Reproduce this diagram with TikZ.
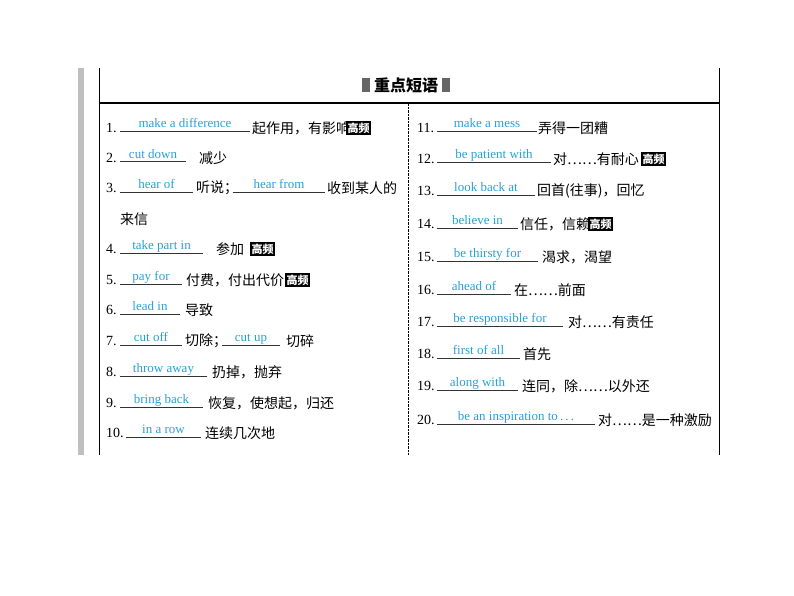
\documentclass[tikz,border=0pt]{standalone}
\usepackage{fontspec}
\setmainfont{Liberation Serif}
\newfontfamily\cjk{Noto Sans CJK SC}
\newfontfamily\narrow{Liberation Serif}
\definecolor{ans}{RGB}{40,160,215}
\tikzset{num/.style={anchor=west,inner sep=0pt,font=\narrow\fontsize{14}{14}\selectfont},
 answ/.style={inner sep=0pt,anchor=base,text=ans,font=\narrow\fontsize{13}{13}\selectfont},
 cn/.style={anchor=west,inner sep=0pt,font=\cjk\fontsize{14}{14}\selectfont},
 badge/.style={anchor=west,fill=black,text=white,inner sep=1.5pt,font=\cjk\bfseries\fontsize{11}{11}\selectfont},
 uline/.style={line width=1pt,draw=black!80}}
% \blank{name}{x1}{x2}{y}{text}
\newcommand\blank[5]{\draw[uline] (#2,#4+9) coordinate (#1a) -- (#3,#4+9) coordinate (#1b);
 \node[answ] (#1t) at ({(#2+#3)/2},#4+5) {#5};}
\begin{document}
\begin{tikzpicture}[x=1pt,y=-1pt]
\useasboundingbox (0,0) rectangle (794,596);
\fill[black!25] (78,68) rectangle (84,455);
\draw[line width=1pt] (99,68) -- (99,455);
\draw[line width=1pt] (719,68) -- (719,455);
\draw[line width=1.2pt] (99,103) -- (719,103);
\draw[densely dotted] (408,104) -- (408,455);
\node[cn,anchor=center,font=\cjk\bfseries\fontsize{16}{16}\selectfont] (hd) at (406,85) {重点短语};
\fill[black!60] ([xshift=-12pt]hd.west|-0,78) rectangle ([xshift=-4pt]hd.west|-0,92);
\fill[black!60] ([xshift=4pt]hd.east|-0,78) rectangle ([xshift=12pt]hd.east|-0,92);
% left column
\node[num] (n1) at (106,128) {1.}; \blank{b1}{120}{250}{123}{make a difference}
\node[cn] (c1) at (252,128) {起作用，有影响}; \node[badge] (g1) at (346,128) {高频};
\node[num] (n2) at (106,158) {2.}; \blank{b2}{120}{186}{153}{cut down}
\node[cn] (c2) at (199,158) {减少};
\node[num] (n3) at (106,188) {3.}; \blank{b3}{120}{193}{183}{hear of}
\node[cn] (c3) at (196,188) {听说；}; \blank{b3x}{233}{325}{183}{hear from}
\node[cn] (c3b) at (327,188) {收到某人的};
\node[cn] (c3c) at (120,219) {来信};
\node[num] (n4) at (106,249) {4.}; \blank{b4}{120}{203}{244}{take part in}
\node[cn] (c4) at (216,249) {参加}; \node[badge] (g4) at (250,249) {高频};
\node[num] (n5) at (106,280) {5.}; \blank{b5}{120}{182}{275}{pay for}
\node[cn] (c5) at (186,280) {付费，付出代价}; \node[badge] (g5) at (285,280) {高频};
\node[num] (n6) at (106,310) {6.}; \blank{b6}{120}{180}{305}{lead in}
\node[cn] (c6) at (185,310) {导致};
\node[num] (n7) at (106,341) {7.}; \blank{b7}{120}{182}{336}{cut off}
\node[cn] (c7) at (185,341) {切除；}; \blank{b7x}{222}{280}{336}{cut up}
\node[cn] (c7b) at (286,341) {切碎};
\node[num] (n8) at (106,372) {8.}; \blank{b8}{120}{207}{367}{throw away}
\node[cn] (c8) at (212,372) {扔掉，抛弃};
\node[num] (n9) at (106,403) {9.}; \blank{b9}{120}{203}{398}{bring back}
\node[cn] (c9) at (208,403) {恢复，使想起，归还};
\node[num] (n10) at (106,433) {10.}; \blank{b10}{126}{201}{428}{in a row}
\node[cn] (c10) at (205,433) {连续几次地};
% right column
\node[num] (n11) at (417,128) {11.}; \blank{b11}{437}{537}{123}{make a mess}
\node[cn] (c11) at (538,128) {弄得一团糟};
\node[num] (n12) at (417,159) {12.}; \blank{b12}{437}{551}{154}{be patient with}
\node[cn] (c12) at (553,159) {对……有耐心}; \node[badge] (g12) at (641,159) {高频};
\node[num] (n13) at (417,191) {13.}; \blank{b13}{437}{535}{186}{look back at}
\node[cn] (c13) at (537,191) {回首(往事)，回忆};
\node[num] (n14) at (417,224) {14.}; \blank{b14}{437}{518}{219}{believe in}
\node[cn] (c14) at (520,224) {信任，信赖}; \node[badge] (g14) at (588,224) {高频};
\node[num] (n15) at (417,257) {15.}; \blank{b15}{437}{538}{252}{be thirsty for}
\node[cn] (c15) at (542,257) {渴求，渴望};
\node[num] (n16) at (417,290) {16.}; \blank{b16}{437}{511}{285}{ahead of}
\node[cn] (c16) at (514,290) {在……前面};
\node[num] (n17) at (417,322) {17.}; \blank{b17}{437}{563}{317}{be responsible for}
\node[cn] (c17) at (568,322) {对……有责任};
\node[num] (n18) at (417,354) {18.}; \blank{b18}{437}{520}{349}{first of all}
\node[cn] (c18) at (523,354) {首先};
\node[num] (n19) at (417,386) {19.}; \blank{b19}{437}{518}{381}{along with}
\node[cn] (c19) at (522,386) {连同，除……以外还};
\node[num] (n20) at (417,420) {20.}; \blank{b20}{437}{595}{415}{be an inspiration to\,.\,.\,.}
\node[cn] (c20) at (598,420) {对……是一种激励};
\end{tikzpicture}
\end{document}
